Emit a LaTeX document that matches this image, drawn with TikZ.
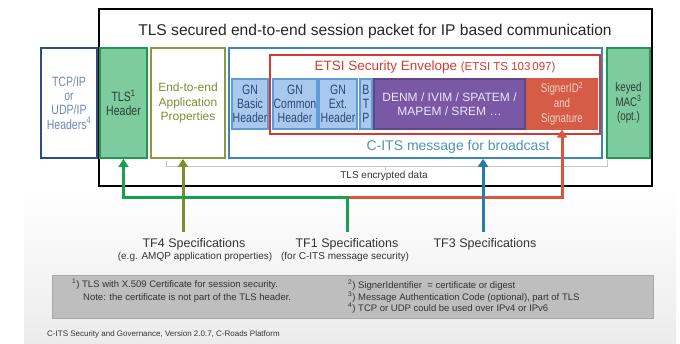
\documentclass[tikz,border=0pt]{standalone}
\usepackage{fontspec}
\setmainfont{Liberation Sans}
\newfontfamily\narrowfont[FakeStretch=0.78]{Liberation Sans}
\usetikzlibrary{arrows.meta,positioning}

\definecolor{tcpblue}{HTML}{2E4D86}
\definecolor{tcptext}{HTML}{6F86B3}
\definecolor{tlsfill}{HTML}{7DCB9E}
\definecolor{tlsline}{HTML}{1F9A55}
\definecolor{tlstext}{HTML}{2B3F35}
\definecolor{appline}{HTML}{8A9A3C}
\definecolor{apptext}{HTML}{7F8C2F}
\definecolor{citsblue}{HTML}{3C86BE}
\definecolor{citstext}{HTML}{4B93B8}
\definecolor{etsired}{HTML}{D43A30}
\definecolor{gnfill}{HTML}{A9C8EE}
\definecolor{gnline}{HTML}{5E9BD8}
\definecolor{gntext}{HTML}{2D4778}
\definecolor{denmfill}{HTML}{7A58A5}
\definecolor{denmtext}{HTML}{ECE6F4}
\definecolor{signfill}{HTML}{D55C45}
\definecolor{signtext}{HTML}{F6CFC5}
\definecolor{arrgreen}{HTML}{17A050}
\definecolor{arrolive}{HTML}{7E8C30}
\definecolor{arrblue}{HTML}{2B7BA6}
\definecolor{arrred}{HTML}{D9553D}
\definecolor{notefill}{HTML}{BEBEBE}
\definecolor{noteline}{HTML}{A8A8A8}
\definecolor{labeltext}{HTML}{333333}

\begin{document}
\begin{tikzpicture}[
  x=1pt,y=-1pt,
  >={Triangle[width=10pt,length=8pt]},
  box/.style={draw,line width=2pt,inner sep=0pt,align=center},
  tall/.style={box,minimum height=110},
  narrow/.style={font=\narrowfont\fontsize{13.5}{14.2}\selectfont},
  gnbox/.style={box,narrow,line width=1.2pt,draw=gnline,fill=gnfill,text=gntext,minimum height=50},
  tflabel/.style={font=\fontsize{12.5}{14}\selectfont,text=labeltext},
  tfsub/.style={font=\fontsize{10}{12}\selectfont,text=labeltext},
  note/.style={font=\fontsize{9.5}{12}\selectfont,text=labeltext,anchor=west,inner sep=0pt},
  arr/.style={->,line width=3pt},
]
\useasboundingbox (0,0) rectangle (680,344);
\shade[top color=white,bottom color=gray!15] (24,186) rectangle (676,344);

% ---------- packet ----------
\node[draw,line width=1.3pt,minimum width=553,minimum height=177] (packet) at (375.5,97.5) {};
\node[font=\fontsize{15.6}{18}\selectfont,text=black!85] (title) at (375,31)
  {TLS secured end-to-end session packet for IP based communication};

\node[tall,narrow,draw=tcpblue,text=tcptext,minimum width=56] (tcp) at (69,103)
  {TCP/IP\\or\\UDP/IP\\Headers\textsuperscript{4}};
\node[tall,narrow,draw=tlsline,fill=tlsfill,text=tlstext,minimum width=47] (tlshdr) at (123.5,103)
  {TLS\textsuperscript{1}\\Header};
\node[tall,draw=appline,text=apptext,minimum width=74,font=\fontsize{12}{14.5}\selectfont] (app) at (188,103)
  {End-to-end\\Application\\Properties};

% ---------- C-ITS message ----------
\node[tall,draw=citsblue,line width=1.6pt,minimum width=373] (cits) at (415.5,103) {};
\node[font=\fontsize{14}{16}\selectfont,text=citstext] (citslbl) at (458,147) {C-ITS message for broadcast};
\node[box,draw=etsired,line width=1.6pt,minimum width=330,minimum height=79] (etsi) at (435,94.5) {};
\node[text=etsired,font=\fontsize{13.5}{16}\selectfont] (etsilbl) at (435,67)
  {ETSI Security Envelope {\fontsize{11.5}{13}\selectfont(ETSI TS 103\,097)}};

\node[gnbox,minimum width=36] (gnb) at (250,104) {GN\\Basic\\Header};
\node[gnbox,minimum width=44] (gnc) at (295,104) {GN\\Common\\Header};
\node[gnbox,minimum width=38] (gne) at (338,104) {GN\\Ext.\\Header};
\node[gnbox,minimum width=12] (btp) at (366,104) {B\\T\\P};
\node[box,line width=1.2pt,draw=denmfill!80!black,fill=denmfill,text=denmtext,minimum width=151,minimum height=50,
  font=\fontsize{12}{14}\selectfont] (denm) at (449.5,104) {DENM / IVIM / SPATEM /\\MAPEM / SREM \dots};
\node[box,line width=1.2pt,draw=signfill,fill=signfill,text=signtext,minimum width=70,minimum height=50,
  font=\narrowfont\fontsize{12.5}{15}\selectfont] (signer) at (562,104) {SignerID\textsuperscript{2}\\and\\Signature};

\node[tall,draw=tlsline,fill=tlsfill,text=tlstext,minimum width=43,
  font=\narrowfont\fontsize{12.5}{14.5}\selectfont] (mac) at (628.5,103) {keyed\\MAC\textsuperscript{3}\\(opt.)};

% ---------- encrypted part ----------
\draw[gray!45,line width=0.8pt] (166,161) -- (166,166) -- (607,166) -- (607,160);
\draw[gray!45,line width=0.8pt] (385,166) -- (385,171);
\node[font=\fontsize{10}{12}\selectfont,text=labeltext] (enc) at (384,176) {TLS encrypted data};

% ---------- specifications ----------
\coordinate (tf4) at (183,232);
\coordinate (tf1) at (347,232);
\coordinate (tf1top) at (347,198);
\coordinate (tf3) at (483,232);

\draw[arr,arrolive] (tf4) -- (tf4 |- app.south);
\draw[arr,arrred,line join=miter] (tf1top) -| (signer.south);
\draw[arr,arrgreen,line join=miter] (tf1) -- (tf1top) -| (tlshdr.south);
\draw[arr,arrblue] (tf3) -- (tf3 |- cits.south);

\node[tflabel] (tf4lbl) at (194,244) {TF4 Specifications};
\node[tfsub] (tf4sub) at (195,257) {(e.g. AMQP application properties)};
\node[tflabel] (tf1lbl) at (347,244) {TF1 Specifications};
\node[tfsub] (tf1sub) at (345,257) {(for C-ITS message security)};
\node[tflabel] (tf3lbl) at (485,244) {TF3 Specifications};

% ---------- footnotes ----------
\node[draw=noteline,fill=notefill,line width=0.8pt,minimum width=601,minimum height=43] (notes) at (352.5,296.5) {};
\node[note] (n1) at (72,284) {\textsuperscript{1}) TLS with X.509 Certificate for session security.};
\node[note] (n1b) at (83,298) {Note: the certificate is not part of the TLS header.};
\node[note] (n2) at (348,285) {\textsuperscript{2}) SignerIdentifier \ = certificate or digest};
\node[note] (n3) at (348,297) {\textsuperscript{3}) Message Authentication Code (optional), part of TLS};
\node[note] (n4) at (348,308) {\textsuperscript{4}) TCP or UDP could be used over IPv4 or IPv6};

\node[font=\fontsize{8}{10}\selectfont,text=labeltext,anchor=west,inner sep=0pt] (src) at (47,334)
  {C-ITS Security and Governance, Version 2.0.7, C-Roads Platform};
\end{tikzpicture}
\end{document}
